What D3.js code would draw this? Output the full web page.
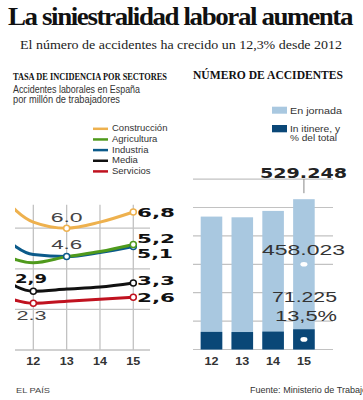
<!DOCTYPE html>
<html>
<head>
<meta charset="utf-8">
<script src="https://cdn.jsdelivr.net/npm/d3@7"></script>
<style>
  body { margin: 0; background: #fff; }
  svg { display: block; }
</style>
</head>
<body>
<div id="chart"></div>
<script>
// DATA
////////////////////////////
// left chart: incidence rate per sector (year 11 is only there so the lines enter from the left, it gets clipped)
var years = [11, 12, 13, 14, 15];
var yearLabels = ["12", "13", "14", "15"];
var sectors = ["Construcción", "Agricultura", "Industria", "Media", "Servicios"];
var construccion = [7.67, 6.3, 6.0, 6.3, 6.8];
var agricultura  = [4.75, 4.3, 4.6, 4.85, 5.2];
var industria    = [5.73, 4.7, 4.6, 4.8, 5.1];
var media        = [3.59, 2.9, 3.0, 3.1, 3.3];
var servicios    = [2.72, 2.3, 2.4, 2.5, 2.6];
var sectorColors = ["#eeb14e", "#4f9a1c", "#0b5a8a", "#111111", "#c0121f"];
// which years carry a little white circle
var markerYears = [[13, 15], [15], [13, 15], [12, 15], [12, 15]];

// right chart: number of accidents
var barYears = ["12", "13", "14", "15"];
var enJornada = [406000, 404000, 425000, 458023];
var inItinere = [62000, 61500, 63000, 71225];
var barTotalLabel = "529.248";
var jornadaLabel = "458.023";
var itinereLabels = ["71.225", "13,5%"];

// SETUP
////////////////////////////
var width = 363, height = 400;
var sans = "'Liberation Sans', Arial, sans-serif";
var serif = "'Liberation Serif', 'Times New Roman', serif";
var bold = "'DejaVu Sans', 'Liberation Sans', sans-serif";

var svg = d3.select("#chart").append("svg")
    .attr("width", width)
    .attr("height", height);

// text helper - the source picture is stretched sideways, so squeeze/stretch each text to its width
function txt(g, s, x, y, w, size, opts) {
  opts = opts || {};
  var t = g.append("text")
    .attr("x", x)
    .attr("y", y)
    .attr("font-family", opts.family || sans)
    .attr("font-size", size)
    .attr("font-weight", opts.weight || "normal")
    .attr("fill", opts.fill || "#333")
    .attr("text-anchor", opts.anchor || "start")
    .text(s);
  if (opts.spacing) t.attr("letter-spacing", opts.spacing);
  if (w) t.attr("textLength", w).attr("lengthAdjust", "spacingAndGlyphs");
  return t;
}

// TITLES
txt(svg, "La siniestralidad laboral aumenta", 8, 24.5, 344, 25, {family: serif, weight: "bold", fill: "#111", spacing: -1.3});
txt(svg, "El número de accidentes ha crecido un 12,3% desde 2012", 20, 48.5, 322, 13.5, {family: serif, fill: "#222"});

txt(svg, "TASA DE INCIDENCIA POR SECTORES", 13, 79.5, 154, 10.5, {family: serif, weight: "bold", fill: "#111"});
txt(svg, "Accidentes laborales en España", 13, 93.3, 127, 10, {fill: "#333"});
txt(svg, "por millón de trabajadores", 13, 102.8, 107, 10, {fill: "#333"});

txt(svg, "NÚMERO DE ACCIDENTES", 193, 78.5, 150, 12.5, {family: serif, weight: "bold", fill: "#111"});

// LEFT CHART
////////////////////////////
var x = d3.scaleLinear().domain([11, 15]).range([0, 133.3]);
var y = d3.scaleLinear().domain([0, 6]).range([350, 228.2]);

var left = svg.append("g");

// legend
sectors.forEach(function(s, i) {
  var by = 131.3 + i * 10.65;
  left.append("line")
    .attr("x1", 93).attr("x2", 108)
    .attr("y1", by - 2.5).attr("y2", by - 2.5)
    .attr("stroke", sectorColors[i])
    .attr("stroke-width", 2.5);
  txt(left, s, 112, by, null, 9.5, {fill: "#333"});
});

// grid
left.selectAll(".hgrid")
  .data([0, 2, 4, 6]).enter().append("line")
    .attr("x1", 15).attr("x2", 150)
    .attr("y1", function(d) { return y(d); })
    .attr("y2", function(d) { return y(d); })
    .attr("stroke", "#c2c2c2")
    .attr("stroke-width", 1.3);
left.selectAll(".vgrid")
  .data([12, 13, 14, 15]).enter().append("line")
    .attr("x1", function(d) { return x(d); })
    .attr("x2", function(d) { return x(d); })
    .attr("y1", y(7.15)).attr("y2", y(0))
    .attr("stroke", "#c2c2c2")
    .attr("stroke-width", 1.3);

// x labels
yearLabels.forEach(function(l, i) {
  txt(left, l, x(12 + i), 365, 14, 11, {anchor: "middle", weight: "bold", fill: "#333"});
});

svg.append("clipPath").attr("id", "clipL")
  .append("rect").attr("x", 15).attr("y", 180).attr("width", 150).attr("height", 190);

var line = d3.line()
  .x(function(d, i) { return x(years[i]); })
  .y(function(d) { return y(d); })
  .curve(d3.curveMonotoneX);

var series = [construccion, agricultura, industria, media, servicios];
// draw blue under green (they share the 13 point)
var order = [0, 2, 1, 3, 4];
var lines = left.append("g").attr("clip-path", "url(#clipL)");
order.forEach(function(k) {
  lines.append("path")
    .attr("d", line(series[k]))
    .attr("fill", "none")
    .attr("stroke", sectorColors[k])
    .attr("stroke-width", 3)
    .attr("stroke-linecap", "round")
    .attr("stroke-linejoin", "round");
});
order.forEach(function(k) {
  markerYears[k].forEach(function(yr) {
    left.append("circle")
      .attr("cx", x(yr))
      .attr("cy", y(series[k][years.indexOf(yr)]))
      .attr("r", 3)
      .attr("fill", "#fff")
      .attr("stroke", sectorColors[k])
      .attr("stroke-width", 1.5);
  });
});

// value labels
txt(left, "6.0", x(13), y(construccion[2]) - 6.5, 32, 13.5, {anchor: "middle", fill: "#444"});
txt(left, "4.6", x(13), y(industria[2]) - 7.5, 31, 13.5, {anchor: "middle", fill: "#444"});
txt(left, "2.3", 16.5, y(servicios[1]) + 17, 30, 13.5, {fill: "#444"});
txt(left, "2,9", 15, y(media[1]) - 8, 32, 13, {family: bold, weight: "bold", fill: "#111"});
txt(left, "6,8", 137, y(construccion[4]) + 5, 38, 13, {family: bold, weight: "bold", fill: "#111"});
txt(left, "5,2", 137, y(agricultura[4]) - 1.5, 38, 13, {family: bold, weight: "bold", fill: "#111"});
txt(left, "5,1", 137, y(industria[4]) + 11.5, 36, 13, {family: bold, weight: "bold", fill: "#111"});
txt(left, "3,3", 137, y(media[4]) + 2, 38, 13, {family: bold, weight: "bold", fill: "#111"});
txt(left, "2,6", 137, y(servicios[4]) + 4.5, 38, 13, {family: bold, weight: "bold", fill: "#111"});

// RIGHT CHART
////////////////////////////
var right = svg.append("g");
var xb = d3.scaleBand().domain(barYears).range([200.7, 314.7]).paddingInner(0.3).paddingOuter(0);
var yb = d3.scaleLinear().domain([0, 600000]).range([349.5, 179.1]);
var lightBlue = "#a9c8e0", darkBlue = "#0a4777";

// legend
right.append("rect").attr("x", 272).attr("y", 106.7).attr("width", 15).attr("height", 7).attr("fill", lightBlue);
txt(right, "En jornada", 290, 113.5, 52, 9.5, {fill: "#333"});
right.append("rect").attr("x", 272).attr("y", 125).attr("width", 15).attr("height", 7.3).attr("fill", darkBlue);
txt(right, "In itinere, y", 290, 131.5, 50, 9, {fill: "#333"});
txt(right, "% del total", 290, 141, 47, 9, {fill: "#333"});

// grid
right.selectAll(".grid")
  .data(d3.range(0, 600001, 100000)).enter().append("line")
    .attr("x1", 193).attr("x2", 333)
    .attr("y1", function(d) { return yb(d); })
    .attr("y2", function(d) { return yb(d); })
    .attr("stroke", "#c2c2c2")
    .attr("stroke-width", 1.2);

// bars: light = total (jornada on top of itinere), dark = itinere
right.selectAll(".total")
  .data(barYears).enter().append("rect")
    .attr("x", function(d) { return xb(d); })
    .attr("width", xb.bandwidth())
    .attr("y", function(d, i) { return yb(enJornada[i] + inItinere[i]); })
    .attr("height", function(d, i) { return yb(0) - yb(enJornada[i] + inItinere[i]); })
    .attr("fill", lightBlue);
right.selectAll(".itinere")
  .data(barYears).enter().append("rect")
    .attr("x", function(d) { return xb(d); })
    .attr("width", xb.bandwidth())
    .attr("y", function(d, i) { return yb(inItinere[i]); })
    .attr("height", function(d, i) { return yb(0) - yb(inItinere[i]); })
    .attr("fill", darkBlue);

barYears.forEach(function(l) {
  txt(right, l, xb(l) + xb.bandwidth() / 2, 365, 14, 11, {anchor: "middle", weight: "bold", fill: "#333"});
});

// annotation for 2015
var cx15 = xb("15") + xb.bandwidth() / 2;
var total15 = enJornada[3] + inItinere[3];
right.append("line")
  .attr("x1", cx15).attr("x2", cx15)
  .attr("y1", yb(600000)).attr("y2", yb(total15) - 6)
  .attr("stroke", "#888").attr("stroke-width", 1);
txt(right, barTotalLabel, 347, 177.5, 87, 14, {anchor: "end", family: bold, weight: "bold", fill: "#222"});
txt(right, jornadaLabel, 345, 255, 83, 15, {anchor: "end", fill: "#333"});
txt(right, itinereLabels[0], 337, 302.3, 65, 14.5, {anchor: "end", fill: "#333"});
txt(right, itinereLabels[1], 337, 321, 62, 14.5, {anchor: "end", fill: "#333"});
right.append("ellipse").attr("cx", cx15).attr("cy", yb(total15) + 65).attr("rx", 3.5).attr("ry", 2.3).attr("fill", "#fff");
right.append("ellipse").attr("cx", cx15).attr("cy", (yb(inItinere[3]) + yb(0)) / 2).attr("rx", 3.5).attr("ry", 2.3).attr("fill", "#fff");

// FOOTER
txt(svg, "EL PAÍS", 16, 393, 34, 8, {fill: "#444"});
txt(svg, "Fuente: Ministerio de Trabajo", 250, 393, 117, 8.5, {fill: "#333"});
</script>
</body>
</html>
